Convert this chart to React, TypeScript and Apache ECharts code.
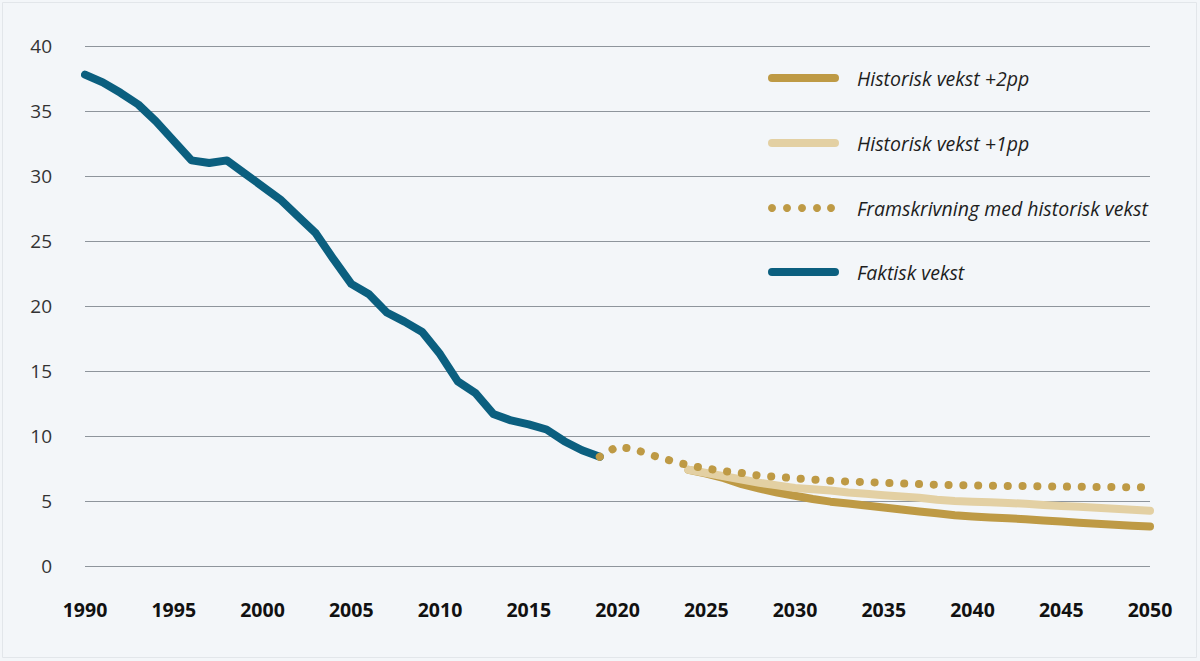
import React, { useEffect, useRef } from "react";
import * as echarts from "echarts";

const actualYears = [1990,1991,1992,1993,1994,1995,1996,1997,1998,1999,2000,2001,2002,2003,2004,2005,2006,2007,2008,2009,2010,2011,2012,2013,2014,2015,2016,2017,2018,2019];
const actualValues = [37.8,37.2,36.4,35.5,34.2,32.7,31.2,31.0,31.2,30.2,29.2,28.2,26.9,25.6,23.6,21.7,20.9,19.5,18.8,18.0,16.3,14.2,13.3,11.7,11.2,10.9,10.5,9.6,8.9,8.4];

const projYears = [2019,2020,2021,2022,2023,2024,2025,2026,2027,2028,2029,2030,2031,2032,2033,2034,2035,2036,2037,2038,2039,2040,2041,2042,2043,2044,2045,2046,2047,2048,2049,2050];
const projValues = [8.4,9.2,8.95,8.5,8.1,7.75,7.5,7.3,7.15,6.95,6.85,6.75,6.65,6.55,6.5,6.45,6.4,6.35,6.3,6.25,6.22,6.2,6.18,6.16,6.15,6.13,6.11,6.1,6.08,6.07,6.06,6.05];

const scenYears = [2024,2025,2026,2027,2028,2029,2030,2031,2032,2033,2034,2035,2036,2037,2038,2039,2040,2041,2042,2043,2044,2045,2046,2047,2048,2049,2050];
const plus2Values = [7.4,7.1,6.75,6.3,5.95,5.65,5.4,5.15,4.95,4.8,4.65,4.5,4.35,4.2,4.05,3.9,3.8,3.73,3.67,3.6,3.5,3.42,3.33,3.25,3.17,3.1,3.03];
const plus1Values = [7.4,7.15,6.9,6.65,6.4,6.2,6.0,5.9,5.8,5.65,5.55,5.45,5.35,5.25,5.1,5.0,4.95,4.9,4.85,4.78,4.7,4.62,4.55,4.48,4.4,4.32,4.25];

const legendNames = ["Historisk vekst +2pp", "Historisk vekst +1pp", "Framskrivning med historisk vekst", "Faktisk vekst"];

const TEAL = "#0b5f7f";
const GOLD = "#be9a45";
const LIGHT = "#e3d0a3";
const FONT = "'Open Sans', 'Noto Sans', sans-serif";

const pairs = (xs: number[], ys: number[]) => xs.map((x, i) => [x, ys[i]]);

export default function App() {
  const ref = useRef<HTMLDivElement>(null);
  useEffect(() => {
    if (!ref.current) return;
    const chart = echarts.init(ref.current, undefined, { renderer: "svg" });
    const legendText = (name: string, y: number) => ({
      type: "text",
      x: 857,
      y: y,
      style: {
        text: name,
        fontFamily: FONT,
        fontSize: 19.5,
        fontStyle: "italic",
        fill: "#1e1e1e",
        verticalAlign: "middle",
        align: "left",
      },
    });
    const legendLine = (color: string, y: number) => ({
      type: "line",
      shape: { x1: 772, y1: y, x2: 835, y2: y },
      style: { stroke: color, lineWidth: 8, lineCap: "round" },
    });
    const dots = [772, 787, 802, 817, 831].map((x) => ({
      type: "circle",
      shape: { cx: x, cy: 208, r: 4 },
      style: { fill: GOLD },
    }));
    chart.setOption({
      animation: false,
      backgroundColor: "#f3f6f9",
      textStyle: { fontFamily: FONT },
      grid: { left: 85, right: 50, top: 46, bottom: 95 },
      xAxis: {
        type: "value",
        min: 1990,
        max: 2050,
        interval: 5,
        axisLine: { show: false },
        axisTick: { show: false },
        splitLine: { show: false },
        axisLabel: {
          margin: 33,
          fontSize: 19.5,
          fontWeight: "bold",
          color: "#111",
          fontFamily: FONT,
          formatter: (v: number) => String(v),
        },
      },
      yAxis: {
        type: "value",
        min: 0,
        max: 40,
        interval: 5,
        axisLine: { show: false },
        axisTick: { show: false },
        splitLine: { lineStyle: { color: "#8e959c", width: 1 } },
        axisLabel: { margin: 33, fontSize: 19, color: "#333", fontFamily: FONT },
      },
      series: [
        {
          name: legendNames[3],
          type: "line",
          data: pairs(actualYears, actualValues),
          showSymbol: false,
          lineStyle: { color: TEAL, width: 8, cap: "round", join: "round" },
          z: 2,
        },
        {
          name: legendNames[0],
          type: "line",
          data: pairs(scenYears, plus2Values),
          showSymbol: false,
          lineStyle: { color: GOLD, width: 8, cap: "round", join: "round" },
          z: 3,
        },
        {
          name: legendNames[1],
          type: "line",
          data: pairs(scenYears, plus1Values),
          showSymbol: false,
          lineStyle: { color: LIGHT, width: 8, cap: "round", join: "round" },
          z: 4,
        },
        {
          name: legendNames[2],
          type: "line",
          data: pairs(projYears, projValues),
          showSymbol: false,
          lineStyle: { color: GOLD, width: 8, type: [0.1, 14.7], cap: "round", join: "round" },
          z: 5,
        },
      ],
      graphic: [
        {
          type: "rect",
          shape: { x: 2.5, y: 2.5, width: 1194, height: 655 },
          style: { fill: "none", stroke: "#e2e6ea", lineWidth: 1 },
          silent: true,
        },
        legendLine(GOLD, 78),
        legendText(legendNames[0], 78),
        legendLine(LIGHT, 143),
        legendText(legendNames[1], 143),
        ...dots,
        legendText(legendNames[2], 208),
        legendLine(TEAL, 272),
        legendText(legendNames[3], 272),
      ],
    });
    return () => chart.dispose();
  }, []);
  return (
    <div
      ref={ref}
      style={{ position: "absolute", left: 0, top: 0, width: 1200, height: 661 }}
    />
  );
}
